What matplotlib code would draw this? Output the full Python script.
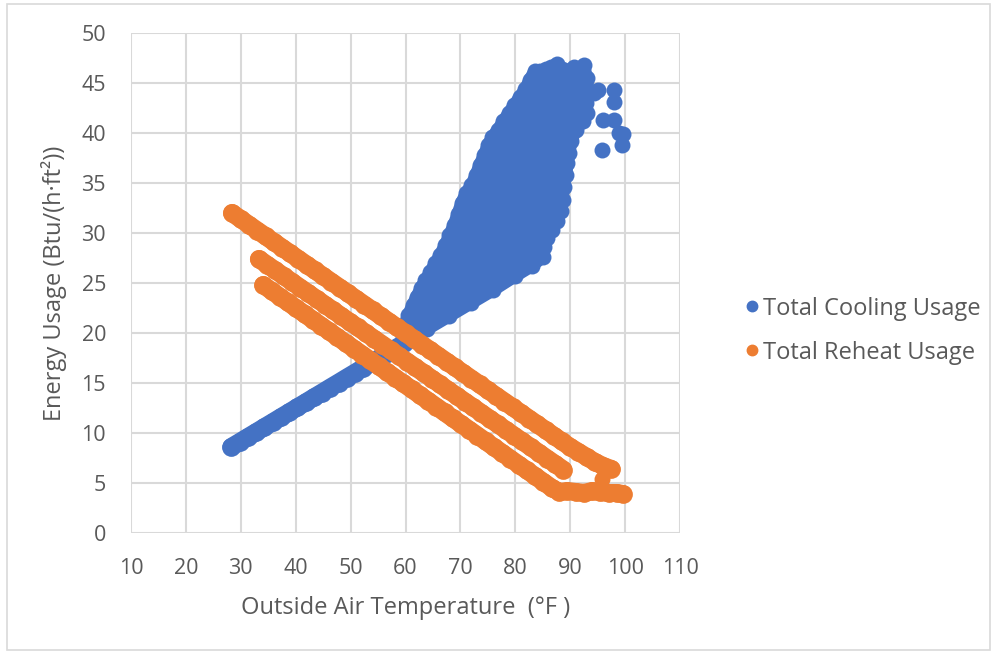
import matplotlib
matplotlib.use("Agg")
import matplotlib.pyplot as plt
from matplotlib.patches import Rectangle
from matplotlib.lines import Line2D

plt.rcParams['font.family'] = ['Open Sans', 'DejaVu Sans']

# ---------------- data ----------------
# Total Cooling Usage: lower linear branch
cool_line_x = [28.3, 29.8, 31.3, 32.8, 34.3, 35.8, 37.3, 38.8, 40.3, 41.8, 43.3, 44.8,
               46.3, 47.8, 49.3, 50.8, 52.3, 53.8, 55.3, 56.8, 58.3, 59.8]
cool_line_y = [8.61, 9.10, 9.60, 10.09, 10.59, 11.08, 11.58, 12.07, 12.57, 13.06, 13.56, 14.05,
               14.55, 15.04, 15.54, 16.03, 16.53, 17.02, 17.52, 18.01, 18.51, 19.00]

# Total Cooling Usage: dense cloud, outline points (read around the cloud)
cloud_x = [59.5, 59.8, 60.5, 61.3, 62.0, 62.8, 63.6, 64.5, 65.4, 66.3, 67.2, 68.0, 68.8,
           69.5, 70.2, 71.0, 72.0, 72.8, 73.5, 74.3, 75.0, 75.8, 76.8, 77.8, 78.8, 79.8,
           80.8, 81.8, 82.6, 83.5, 84.5, 85.5, 86.5, 87.5, 88.5, 89.5, 90.6, 91.5, 92.5,
           93.0, 93.3, 92.8, 93.0, 92.3, 91.0, 90.2, 89.8, 89.5, 89.2, 88.8, 88.6, 88.3,
           87.5, 86.6, 85.7, 85.2, 85.0, 83.0, 80.0, 76.0, 72.0, 68.0, 64.0, 60.5]
cloud_y = [19.5, 20.8, 21.8, 22.8, 23.6, 24.5, 25.3, 26.1, 27.0, 27.8, 28.8, 29.8, 30.8,
           31.9, 33.0, 34.0, 34.8, 35.8, 36.8, 37.8, 38.8, 39.6, 40.3, 41.2, 42.0, 42.8,
           43.6, 44.4, 45.3, 46.2, 46.2, 46.4, 46.6, 46.9, 46.4, 46.2, 46.6, 46.3, 46.8,
           45.5, 44.2, 43.0, 42.0, 41.2, 40.3, 39.2, 38.0, 37.0, 35.8, 34.6, 33.3, 32.2,
           31.2, 30.3, 29.5, 28.6, 27.6, 26.7, 25.7, 24.3, 23.0, 21.7, 20.4, 19.3]

# Total Cooling Usage: isolated points at the hot end
cool_out_x = [94.3, 95.1, 97.9, 97.9, 96.0, 97.9, 98.8, 99.6, 99.4, 95.7]
cool_out_y = [44.0, 44.3, 44.3, 43.1, 41.3, 41.3, 40.0, 39.9, 38.8, 38.3]

# Total Reheat Usage: three bands
reheat_top_x = [28.4, 30, 31.5, 33, 34.5, 36, 37.5, 39, 40.5, 42, 43.5, 45, 46.5, 48, 49.5,
                51, 52.5, 54, 55.5, 57, 58.5, 60, 61.5, 63, 64.5, 66, 67.5, 69, 70.5, 72,
                73.5, 75, 76.5, 78, 79.5, 81, 82.5, 84, 85.5, 87, 88.5, 90, 91.5, 93, 94.5,
                96, 97.5]
reheat_top_y = [32.0, 31.39, 30.82, 30.25, 29.68, 29.11, 28.54, 27.97, 27.40, 26.83, 26.26,
                25.69, 25.12, 24.55, 23.98, 23.41, 22.84, 22.27, 21.70, 21.13, 20.56, 19.99,
                19.42, 18.85, 18.28, 17.71, 17.14, 16.57, 16.00, 15.43, 14.86, 14.29, 13.72,
                13.15, 12.58, 12.01, 11.44, 10.87, 10.30, 9.73, 9.16, 8.6, 8.1, 7.6, 7.1,
                6.7, 6.4]

reheat_mid_x = [33.3, 34.8, 36.3, 37.8, 39.3, 40.8, 42.3, 43.8, 45.3, 46.8, 48.3, 49.8, 51.3,
                52.8, 54.3, 55.8, 57.3, 58.8, 60.3, 61.8, 63.3, 64.8, 66.3, 67.8, 69.3, 70.8,
                72.3, 73.8, 75.3, 76.8, 78.3, 79.8, 81.3, 82.8, 84.3, 85.8, 87.3, 88.7]
reheat_mid_y = [27.40, 26.83, 26.26, 25.69, 25.12, 24.55, 23.98, 23.41, 22.84, 22.27, 21.70,
                21.13, 20.56, 19.99, 19.42, 18.85, 18.28, 17.71, 17.14, 16.57, 16.00, 15.43,
                14.86, 14.29, 13.72, 13.15, 12.58, 12.01, 11.44, 10.87, 10.30, 9.73, 9.16,
                8.59, 8.02, 7.45, 6.88, 6.35]

reheat_low_x = [34.1, 35.6, 37.1, 38.6, 40.1, 41.6, 43.1, 44.6, 46.1, 47.6, 49.1, 50.6, 52.1,
                53.6, 55.1, 56.6, 58.1, 59.6, 61.1, 62.6, 64.1, 65.6, 67.1, 68.6, 70.1, 71.6,
                73.1, 74.6, 76.1, 77.6, 79.1, 80.6, 82.1, 83.6, 85.1, 86.6, 88.0, 89.5, 91.0,
                92.5, 94.0, 95.5, 97.0, 98.5, 99.6]
reheat_low_y = [24.80, 24.22, 23.64, 23.06, 22.48, 21.91, 21.33, 20.75, 20.17, 19.59, 19.01,
                18.43, 17.85, 17.27, 16.69, 16.12, 15.54, 14.96, 14.38, 13.80, 13.22, 12.64,
                12.06, 11.48, 10.90, 10.33, 9.75, 9.17, 8.59, 8.01, 7.43, 6.85, 6.27, 5.69,
                5.11, 4.53, 4.1, 4.2, 4.1, 4.0, 4.2, 4.1, 4.0, 4.0, 3.9]

reheat_extra_x = [95.8]
reheat_extra_y = [5.4]

x_ticks = [10, 20, 30, 40, 50, 60, 70, 80, 90, 100, 110]
y_ticks = [0, 5, 10, 15, 20, 25, 30, 35, 40, 45, 50]

series_names = ["Total Cooling Usage", "Total Reheat Usage"]
x_label = "Outside Air Temperature  (°F )"
y_label = "Energy Usage (Btu/(h·ft²))"

# ---------------- styling ----------------
BLUE = "#4472C4"
ORANGE = "#ED7D31"
GRID = "#D9D9D9"
TXT = "#595959"
MS = 13.5      # marker diameter (pt)
BAND = 13.0    # width of the dense band of overlapping markers (pt)

fig = plt.figure(figsize=(9.97, 6.54), dpi=100)
ax = fig.add_axes([0.1314, 0.185, 0.5507, 0.7645])


def dense(xs, ys, color, z):
    ax.plot(xs, ys, color=color, lw=BAND, solid_capstyle='round',
            solid_joinstyle='round', zorder=z)
    ax.plot(xs, ys, ls='none', marker='o', ms=MS, mfc=color, mec='none', zorder=z)


# cooling
ax.fill(cloud_x, cloud_y, color=BLUE, lw=0, zorder=2)
ax.plot(cloud_x + cloud_x[:1], cloud_y + cloud_y[:1], color=BLUE, lw=9.0,
        solid_joinstyle='round', zorder=2)
ax.plot(cloud_x, cloud_y, ls='none', marker='o', ms=11.5, mfc=BLUE, mec='none', zorder=2)
dense(cool_line_x, cool_line_y, BLUE, 2)
ax.plot(cool_out_x, cool_out_y, ls='none', marker='o', ms=11.5, mfc=BLUE, mec='none',
        zorder=2)

# reheat
for xs, ys in [(reheat_top_x, reheat_top_y), (reheat_mid_x, reheat_mid_y),
               (reheat_low_x, reheat_low_y)]:
    dense(xs, ys, ORANGE, 3)
ax.plot(reheat_extra_x, reheat_extra_y, ls='none', marker='o', ms=11.5, mfc=ORANGE,
        mec='none', zorder=3)

ax.set_xlim(x_ticks[0], x_ticks[-1])
ax.set_ylim(y_ticks[0], y_ticks[-1])
ax.set_xticks(x_ticks)
ax.set_yticks(y_ticks)
ax.grid(True, color=GRID, lw=1.5)
ax.set_axisbelow(True)
for sp in ax.spines.values():
    sp.set_visible(False)
ax.tick_params(length=0, labelsize=15.5, labelcolor=TXT, pad=18)
ax.set_xlabel(x_label, fontsize=17, color=TXT, labelpad=12)
ax.set_ylabel(y_label, fontsize=17, color=TXT, labelpad=10)

handles = [Line2D([], [], ls='none', marker='o', ms=7.5, mfc=BLUE, mec=BLUE),
           Line2D([], [], ls='none', marker='o', ms=7.5, mfc=ORANGE, mec=ORANGE)]
fig.legend(handles, series_names, loc='center left', bbox_to_anchor=(0.727, 0.4945),
           frameon=False, fontsize=17, labelcolor=TXT, handletextpad=0.2,
           handlelength=0.5, labelspacing=0.85)

fig.add_artist(Rectangle((0.007, 0.006), 0.986, 0.988, transform=fig.transFigure,
                         fill=False, ec=GRID, lw=1.2))

fig.savefig("out.png", dpi=100)
